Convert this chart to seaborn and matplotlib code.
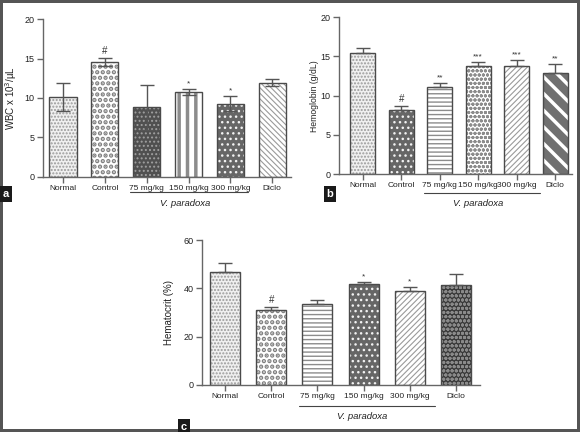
import numpy as np
import pandas as pd
import matplotlib
matplotlib.use('Agg')
import matplotlib.pyplot as plt
import matplotlib.transforms as mtransforms
from matplotlib.patches import Rectangle
import seaborn as sns

groups = ['Normal', 'Control', '75 mg/kg', '150 mg/kg', '300 mg/kg', 'Diclo']

wbc_mean = [10.1, 14.6, 8.8, 10.75, 9.25, 11.95]
wbc_err = [1.75, 0.5, 2.8, 0.35, 0.95, 0.4]
wbc_marks = ['', '#', '', '*', '*', '']

hb_mean = [15.45, 8.15, 11.15, 13.75, 13.8, 12.9]
hb_err = [0.6, 0.55, 0.45, 0.55, 0.75, 1.1]
hb_marks = ['', '#', '**', '***', '***', '**']

hct_mean = [46.7, 30.9, 33.7, 41.7, 38.9, 41.3]
hct_err = [3.6, 1.3, 1.4, 0.8, 1.6, 4.8]
hct_marks = ['', '#', '', '*', '*', '']

# fill patterns (facecolor, hatch, hatch colour, hatch linewidth)
patterns = {
    'fine': ('#f0f0f0', '.....', '#9a9a9a', 1.0),
    'checker': ('white', '...', '#7e7e7e', 2.2),
    'darkfine': ('#505050', '....', '#a0a0a0', 0.9),
    'darkdots': ('#666666', '...', '#f2f2f2', 1.0),
    'vstripe': ('white', '||', '#8c8c8c', 2.5),
    'hstripe': ('white', '----', '#8c8c8c', 1.0),
    'bdiag': ('white', '\\\\\\\\\\\\', '#9a9a9a', 0.8),
    'fdiag': ('white', '//////', '#9a9a9a', 0.8),
    'circles': ('white', 'oooo', '#8c8c8c', 1.0),
    'broad': ('#707070', '\\\\', 'white', 2.5),
    'darkhex': ('#3a3a3a', 'oooo', '#8a8a8a', 1.0),
}

sns.set_style('ticks')
plt.rcParams['font.family'] = ['Liberation Sans', 'DejaVu Sans']
plt.rcParams['axes.edgecolor'] = '#666666'
plt.rcParams['xtick.color'] = '#666666'
plt.rcParams['ytick.color'] = '#666666'
plt.rcParams['xtick.labelcolor'] = '#222222'
plt.rcParams['ytick.labelcolor'] = '#222222'

fig = plt.figure(figsize=(5.8, 4.32), dpi=100, edgecolor='#555555', linewidth=3)


def draw_panel(rect, means, errs, marks, styles, ylabel, ylab_size, ylab_x,
               ymax, yticks, two_sided, xlim, bracket, line_y, text_y):
    ax = fig.add_axes(rect)
    df = pd.DataFrame({'group': groups, 'value': means})
    sns.barplot(data=df, x='group', y='value', ax=ax, color='white',
                width=0.65, saturation=1, errorbar=None)
    bars = list(ax.patches)
    for p, st in zip(bars, styles):
        fc, hatch, hc, hlw = patterns[st]
        p.set_facecolor(fc)
        p.set_hatch(hatch)
        p.set_edgecolor(hc)
        p.set_linewidth(0)
        if hasattr(p, 'set_hatch_linewidth'):
            p.set_hatch_linewidth(hlw)
        ax.add_patch(Rectangle(p.get_xy(), p.get_width(), p.get_height(),
                               fill=False, ec='#4a4a4a', lw=1,
                               zorder=p.get_zorder() + 0.1))
    x = np.arange(len(groups))
    e = np.array(errs)
    yerr = [e, e] if two_sided else [np.zeros(len(e)), e]
    ax.errorbar(x, means, yerr=yerr, fmt='none', ecolor='#555555',
                elinewidth=1, capsize=5, capthick=1, zorder=5)
    for xi, m, er, t in zip(x, means, errs, marks):
        if t:
            ax.annotate(t, (xi, m + er), xytext=(0, 1.5),
                        textcoords='offset points', ha='center', va='bottom',
                        fontsize=7 if t == '#' else 6, color='#333333')
    ax.set_xlim(*xlim)
    ax.set_ylim(0, ymax)
    ax.set_yticks(yticks)
    ax.set_xlabel('')
    ax.set_ylabel(ylabel, fontsize=ylab_size, color='#222222')
    ax.yaxis.set_label_coords(ylab_x, 0.5)
    ax.tick_params(axis='x', labelsize=6, length=4, width=1, pad=2)
    ax.tick_params(axis='y', labelsize=6.5, length=4, width=1, pad=2)
    sns.despine(ax=ax)
    for s in ax.spines.values():
        s.set_linewidth(1)
    trans = mtransforms.blended_transform_factory(ax.transData, ax.transAxes)
    ax.plot(bracket, [line_y, line_y], transform=trans, clip_on=False,
            color='#444444', lw=0.8)
    ax.text(sum(bracket) / 2 - 0.1, text_y, 'V. paradoxa', transform=trans,
            ha='center', va='center', style='italic', fontsize=6.8,
            color='#222222')
    return ax


draw_panel([0.0741, 0.5903, 0.4276, 0.3657], wbc_mean, wbc_err, wbc_marks,
           ['fine', 'checker', 'darkfine', 'vstripe', 'darkdots', 'bdiag'],
           'WBC x 10$^3$/µL', 7, -0.095, 20, [0, 5, 10, 15, 20], True,
           (-0.48, 5.45), (1.6, 4.43), -0.095, -0.165)

draw_panel([0.5845, 0.5972, 0.4017, 0.3627], hb_mean, hb_err, hb_marks,
           ['fine', 'darkdots', 'hstripe', 'circles', 'fdiag', 'broad'],
           'Hemoglobin (g/dL)', 6.2, -0.085, 20, [0, 5, 10, 15, 20], False,
           (-0.62, 5.44), (1.6, 4.6), -0.121, -0.19)

draw_panel([0.3483, 0.1088, 0.4793, 0.3356], hct_mean, hct_err, hct_marks,
           ['fine', 'checker', 'hstripe', 'darkdots', 'fdiag', 'darkhex'],
           'Hematocrit (%)', 7, -0.10, 60, [0, 20, 40, 60], False,
           (-0.5, 5.52), (1.59, 4.54), -0.145, -0.214)

for lx, ly, lab in [(6 / 580, 1 - 194 / 432, 'a'),
                    (330 / 580, 1 - 194 / 432, 'b'),
                    (184 / 580, 1 - 427 / 432, 'c')]:
    fig.text(lx, ly, lab, color='white', fontweight='bold', fontsize=8,
             ha='center', va='center',
             bbox=dict(boxstyle='square,pad=0.25', fc='#1a1a1a', ec='none'))

fig.savefig('out.png', dpi=100)
